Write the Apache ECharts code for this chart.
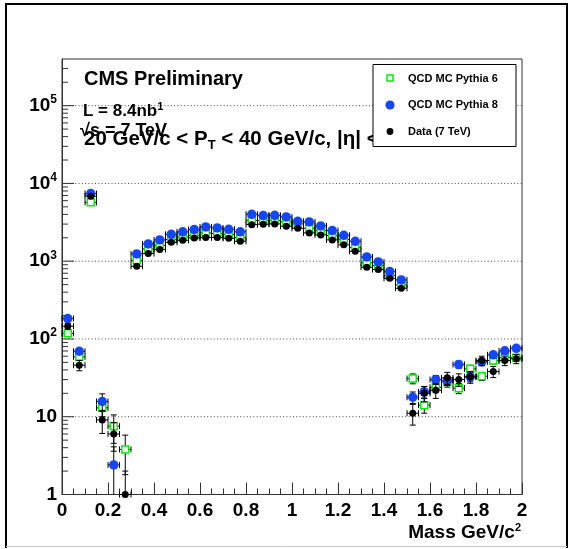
<!DOCTYPE html>
<html>
<head>
<meta charset="utf-8">
<title>Mass spectrum</title>
<script src="https://cdn.jsdelivr.net/npm/echarts@6/dist/echarts.min.js"></script>
<style>
  html, body { margin: 0; padding: 0; background: #fff; }
  #chart { width: 573px; height: 549px; }
</style>
</head>
<body>
<div id="chart"></div>
<script>
// Bin centres (GeV/c^2), bin width 0.05
const massBins = [0.025, 0.075, 0.125, 0.175, 0.225, 0.275, 0.325, 0.375, 0.425, 0.475,
                  0.525, 0.575, 0.625, 0.675, 0.725, 0.775, 0.825, 0.875, 0.925, 0.975,
                  1.025, 1.075, 1.125, 1.175, 1.225, 1.275, 1.325, 1.375, 1.425, 1.475,
                  1.525, 1.575, 1.625, 1.675, 1.725, 1.775, 1.825, 1.875, 1.925, 1.975];

// QCD MC Pythia 6
const pythia6 = [118, 59, 5710, 13, 7.55, 3.8, 1027, 1439, 1600, 1896,
                 2053, 2152, 2311, 2264, 2218, 2011, 3357, 3326, 3357, 3200,
                 3015, 2650, 2496, 2133, 1896, 1510, 951, 878, 653, 496,
                 31, 14.1, 23.9, 28, 23.3, 41.3, 33.2, 52.7, 57.7, 57.2];
const pythia6Err = [8, 5, 150, 3, 3, 2, 25, 30, 32, 35,
                    36, 37, 38, 38, 37, 35, 45, 45, 45, 44,
                    42, 40, 38, 36, 34, 30, 24, 23, 20, 17,
                    4.5, 3, 3.5, 4, 3.5, 4.5, 4, 5, 5, 5];

// QCD MC Pythia 8
const pythia8 = [183, 69.5, 7400, 15.7, 2.4, null, 1242, 1668, 1878, 2218,
                 2384, 2548, 2760, 2680, 2570, 2384, 4008, 3855, 3890, 3707,
                 3256, 3200, 2843, 2473, 2152, 1803, 1135, 980, 735, 575,
                 17.8, 20.9, 30, 29.2, 46.9, 32.6, 50.9, 62.6, 70.3, 75.9];
const pythia8Err = [10, 6, 180, 4, 1.7, null, 28, 33, 35, 38,
                    40, 41, 43, 42, 41, 40, 52, 50, 50, 48,
                    46, 45, 42, 40, 37, 34, 27, 25, 22, 19,
                    3, 3.5, 4, 4, 5, 4.5, 5.5, 6, 6, 6.5];

// Data (7 TeV)
const data7TeV = [146, 46, 6830, 9.1, 6, 1, 860, 1253, 1410, 1750,
                  1857, 1994, 2011, 2011, 1968, 1802, 2950, 2990, 3015, 2810,
                  2650, 2311, 2180, 1879, 1622, 1341, 835, 780, 603, 449,
                  11.1, 20, 21.9, 31.6, 30.1, 32.6, 52.7, 38.1, 52.7, 55.5];
const dataErr = [12, 7, 83, 3, 2.4, 1, 29, 35, 38, 42,
                 43, 45, 45, 45, 44, 42, 54, 54, 55, 53,
                 51, 48, 47, 43, 40, 37, 29, 28, 25, 21,
                 3.3, 4.5, 4.7, 5.6, 5.5, 5.7, 7.3, 6.2, 7.3, 7.4];

const seriesNames = ['QCD MC Pythia 6', 'QCD MC Pythia 8', 'Data (7 TeV)'];

const X_MIN = 0, X_MAX = 2;
const Y_MIN = 1, Y_MAX = Math.pow(10, 5.6);
const HALF_BIN = 0.025;
const FONT = '"Liberation Sans", Arial, Helvetica, sans-serif';
const GREEN = '#00ee00', BLUE = '#1446ff', BLACK = '#000';

function points(vals) {
  const out = [];
  vals.forEach((v, i) => { if (v !== null) out.push([massBins[i], v]); });
  return out;
}
function withErr(vals, errs) {
  const out = [];
  vals.forEach((v, i) => { if (v !== null) out.push([massBins[i], v, errs[i]]); });
  return out;
}

// Error bars: horizontal bar over the bin with end caps, vertical bar with caps
function renderErr(params, api) {
  const x = api.value(0), y = api.value(1), e = api.value(2);
  const c = api.coord([x, y]);
  const xl = api.coord([x - HALF_BIN, y])[0];
  const xr = api.coord([x + HALF_BIN, y])[0];
  const cap = 3;
  const style = { stroke: '#000', lineWidth: 1 };
  const kids = [
    { type: 'line', shape: { x1: xl, y1: c[1], x2: xr, y2: c[1] }, style },
    { type: 'line', shape: { x1: xl, y1: c[1] - cap, x2: xl, y2: c[1] + cap }, style },
    { type: 'line', shape: { x1: xr, y1: c[1] - cap, x2: xr, y2: c[1] + cap }, style }
  ];
  const top = api.coord([x, Math.min(y + e, Y_MAX)])[1];
  const low = y - e;
  const bot = low > Y_MIN ? api.coord([x, low])[1] : api.coord([x, Y_MIN])[1];
  kids.push({ type: 'line', shape: { x1: c[0], y1: top, x2: c[0], y2: bot }, style });
  kids.push({ type: 'line', shape: { x1: c[0] - cap, y1: top, x2: c[0] + cap, y2: top }, style });
  if (low > Y_MIN) {
    kids.push({ type: 'line', shape: { x1: c[0] - cap, y1: bot, x2: c[0] + cap, y2: bot }, style });
  }
  return { type: 'group', children: kids };
}

// Log-axis ticks at 1..9 x 10^n, dotted grid lines at the decades
const yTickVals = [];
for (let p = 0; p <= 5; p++) {
  for (let m = 1; m <= 9; m++) {
    const v = m * Math.pow(10, p);
    if (v < Y_MAX) yTickVals.push([X_MIN, v, m === 1 ? 1 : 0]);
  }
}
function renderYTicks(params, api) {
  const v = api.value(1), major = api.value(2) === 1;
  const l = api.coord([X_MIN, v]);
  const r = api.coord([X_MAX, v]);
  const kids = [];
  if (major && v > Y_MIN) {
    kids.push({ type: 'line', shape: { x1: l[0], y1: l[1], x2: r[0], y2: r[1] },
                style: { stroke: '#444', lineWidth: 1, lineDash: [1, 2.3] } });
  }
  kids.push({ type: 'line', shape: { x1: l[0], y1: l[1], x2: l[0] + (major ? 12 : 6), y2: l[1] },
              style: { stroke: '#333', lineWidth: 1 } });
  return { type: 'group', children: kids };
}

function yLabel(v) {
  const p = Math.round(Math.log10(v));
  if (Math.abs(Math.log10(v) - p) > 1e-6) return '';
  if (p === 0) return '{b|1}';
  if (p === 1) return '{b|10}';
  return '{b|10}{s|' + p + '}';
}

const chart = echarts.init(document.getElementById('chart'), null, { renderer: 'canvas' });

const txtBold = (size) => ({ fontSize: size, fontWeight: 'bold', fontFamily: FONT, fill: '#000' });

const option = {
  animation: false,
  backgroundColor: '#fff',
  grid: { left: 62, right: 51, top: 59, bottom: 54.5, show: true, borderColor: '#333', borderWidth: 1 },
  xAxis: {
    type: 'value', min: X_MIN, max: X_MAX, interval: 0.2,
    axisLine: { lineStyle: { color: '#333', width: 1 } },
    axisTick: { inside: true, length: 12, lineStyle: { color: '#333' } },
    minorTick: { show: true, splitNumber: 4, length: 6, lineStyle: { color: '#333' } },
    splitLine: { show: false },
    axisLabel: { margin: 7, color: '#000', fontSize: 19, fontWeight: 'bold', fontFamily: FONT },
    name: 'Mass GeV/c{s|2}',
    nameLocation: 'end',
    nameGap: -1,
    nameTextStyle: {
      align: 'right', verticalAlign: 'middle', padding: [77, 0, 0, 0],
      color: '#000', fontSize: 19, fontWeight: 'bold', fontFamily: FONT,
      rich: { s: { fontSize: 11, fontWeight: 'bold', fontFamily: FONT, color: '#000', padding: [0, 0, 10, 0] } }
    }
  },
  yAxis: {
    type: 'log', logBase: 10, min: Y_MIN, max: Y_MAX,
    axisLine: { lineStyle: { color: '#333', width: 1 } },
    axisTick: { show: false },
    splitLine: { show: false },
    axisLabel: {
      margin: 5, formatter: yLabel,
      rich: {
        b: { fontSize: 19, fontWeight: 'bold', fontFamily: FONT, color: '#000' },
        s: { fontSize: 12, fontWeight: 'bold', fontFamily: FONT, color: '#000', padding: [0, 0, 12, 0] }
      }
    }
  },
  graphic: [
    // canvas frame
    { type: 'polyline', z: 50, shape: { points: [[6, 548], [6, 4], [567, 4], [567, 548]] },
      style: { stroke: '#000', lineWidth: 2, fill: null } },
    { type: 'line', z: 50, shape: { x1: 6, y1: 546.5, x2: 567, y2: 546.5 },
      style: { stroke: '#c8c8c8', lineWidth: 1 } },
    // annotations
    { type: 'text', z: 10, x: 84, y: 79.5,
      style: Object.assign({ text: 'CMS Preliminary', verticalAlign: 'middle' }, txtBold(20)) },
    { type: 'text', z: 10, x: 83, y: 111.5,
      style: Object.assign({ text: 'L = 8.4nb{s|1}', verticalAlign: 'middle',
        rich: { s: { fontSize: 11, fontWeight: 'bold', fontFamily: FONT, fill: '#000', padding: [0, 0, 10, 0] } } }, txtBold(17)) },
    { type: 'text', z: 10, x: 80, y: 131,
      style: Object.assign({ text: '\u221As = 7 TeV', verticalAlign: 'middle' }, txtBold(18)) },
    { type: 'text', z: 10, x: 84, y: 139.5,
      style: Object.assign({ text: '20 GeV/c < P{t|T} < 40 GeV/c, |\u03B7| < 2.5', verticalAlign: 'middle',
        rich: { t: { fontSize: 13, fontWeight: 'bold', fontFamily: FONT, fill: '#000', padding: [12, 0, 0, 0] } } }, txtBold(20.5)) },
    // legend
    { type: 'rect', z: 20, shape: { x: 373, y: 64.5, width: 143, height: 82 },
      style: { fill: '#fff', stroke: '#000', lineWidth: 1 } },
    { type: 'rect', z: 21, shape: { x: 387, y: 75, width: 6, height: 6 },
      style: { fill: '#fff', stroke: GREEN, lineWidth: 1.5 } },
    { type: 'circle', z: 21, shape: { cx: 390, cy: 105, r: 4.6 }, style: { fill: BLUE } },
    { type: 'circle', z: 21, shape: { cx: 390, cy: 131.5, r: 3.4 }, style: { fill: BLACK } },
    { type: 'text', z: 21, x: 408, y: 78.5,
      style: Object.assign({ text: seriesNames[0], verticalAlign: 'middle' }, txtBold(11)) },
    { type: 'text', z: 21, x: 408, y: 105,
      style: Object.assign({ text: seriesNames[1], verticalAlign: 'middle' }, txtBold(11)) },
    { type: 'text', z: 21, x: 408, y: 131.5,
      style: Object.assign({ text: seriesNames[2], verticalAlign: 'middle' }, txtBold(11)) }
  ],
  series: [
    { type: 'custom', name: 'yticks', z: 1, silent: true, renderItem: renderYTicks,
      data: yTickVals, encode: { x: 0, y: 1 } },
    { type: 'custom', name: seriesNames[0] + ' err', z: 2, silent: true, renderItem: renderErr,
      data: withErr(pythia6, pythia6Err), encode: { x: 0, y: 1 } },
    { type: 'scatter', name: seriesNames[0], z: 3, symbol: 'rect', symbolSize: 7,
      itemStyle: { color: '#fff', borderColor: GREEN, borderWidth: 1.5, opacity: 1 },
      data: points(pythia6) },
    { type: 'custom', name: seriesNames[1] + ' err', z: 4, silent: true, renderItem: renderErr,
      data: withErr(pythia8, pythia8Err), encode: { x: 0, y: 1 } },
    { type: 'scatter', name: seriesNames[1], z: 5, symbol: 'circle', symbolSize: 9.5,
      itemStyle: { color: BLUE, opacity: 1 },
      data: points(pythia8) },
    { type: 'custom', name: seriesNames[2] + ' err', z: 6, silent: true, renderItem: renderErr,
      data: withErr(data7TeV, dataErr), encode: { x: 0, y: 1 } },
    { type: 'scatter', name: seriesNames[2], z: 7, symbol: 'circle', symbolSize: 7, clip: false,
      itemStyle: { color: BLACK, opacity: 1 },
      data: points(data7TeV) }
  ]
};

chart.setOption(option);
</script>
</body>
</html>
